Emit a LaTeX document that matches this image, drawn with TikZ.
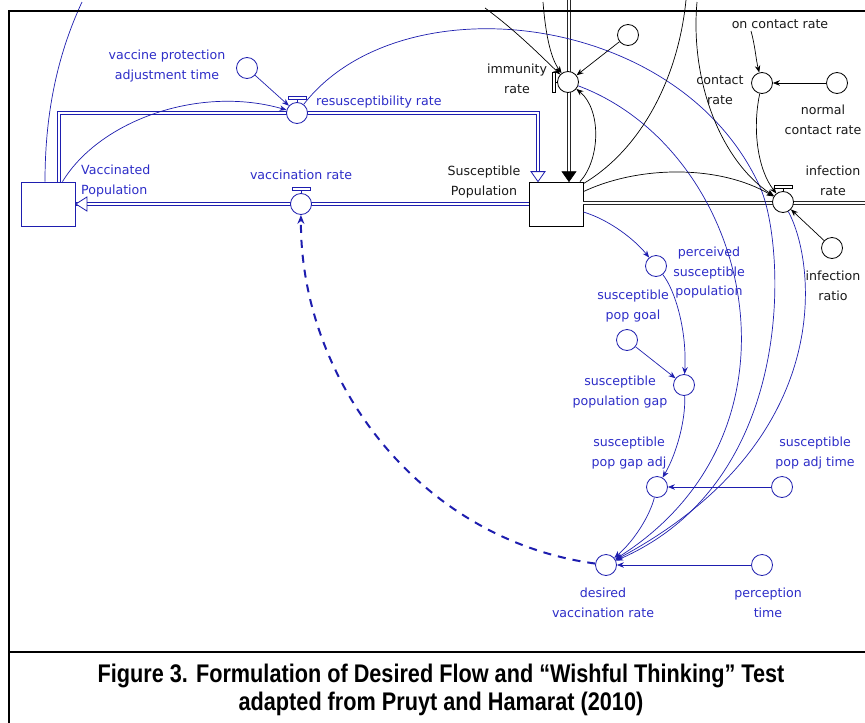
\documentclass[tikz,border=0pt]{standalone}
\usepackage{fontspec}
\usepackage{graphicx}
\setmainfont{DejaVu Sans}
\newfontfamily\capfont{Liberation Sans}
\usetikzlibrary{arrows.meta,calc}
\definecolor{sdblue}{RGB}{30,30,175}
\definecolor{sdtext}{RGB}{45,45,200}
\definecolor{sdgray}{RGB}{25,25,25}
\tikzset{
  auxc/.style={circle, draw, fill=white, minimum size=21pt, inner sep=0pt, line width=0.8pt},
  bauxc/.style={auxc, draw=sdblue},
  kauxc/.style={auxc, draw=black},
  stockbox/.style={rectangle, draw, fill=white, minimum width=54pt, minimum height=44pt, inner sep=0pt, line width=0.8pt},
  lbl/.style={font=\fontsize{12.6}{19.5}\selectfont, align=center, inner sep=0pt},
  blbl/.style={lbl, text=sdtext},
  klbl/.style={lbl, text=sdgray},
  bconn/.style={draw=sdblue, line width=0.7pt, -{Stealth[length=7pt,width=5.5pt]}},
  kconn/.style={draw=black, line width=0.7pt, -{Stealth[length=7pt,width=5.5pt]}},
  blink/.style={draw=sdblue, line width=0.7pt},
  klink/.style={draw=black, line width=0.7pt},
  bpipe/.style={draw=sdblue, double=white, double distance=2.2pt, line width=0.8pt},
  kpipe/.style={draw=black!85, double=white, double distance=2.2pt, line width=0.8pt},
  valveup/.pic={\draw[fill=white, line width=0.7pt] (-9,-17) rectangle (9,-14); \draw[line width=0.7pt] (0,-14) -- (0,-10.5);},
  valveleft/.pic={\draw[fill=white, line width=0.7pt] (-16,-10) rectangle (-13,10); \draw[line width=0.7pt] (-13,0) -- (-10.5,0);}
}
\begin{document}
\begin{tikzpicture}[x=1pt,y=-1pt]
\useasboundingbox (0,0) rectangle (865,723);
\clip (0,0) rectangle (865,723);
\fill[white] (0,0) rectangle (865,723);

% stocks
\node[stockbox, draw=sdblue] (vacc) at (48.5,204) {};
\node[stockbox, draw=black] (susc) at (556,204) {};

% free ends of links that leave the view
\coordinate (immsrc) at (569,0);
\coordinate (infsink) at (872,203);
\coordinate (vtop) at (82,2);
\coordinate (ktopa) at (485,8);
\coordinate (ktopb) at (543,2);
\coordinate (ktopc) at (697,2);
\coordinate (ktopd) at (686,0);
\coordinate (oncont) at (751,31);
\coordinate (bend) at (760,187);

% flow pipes
\draw[bpipe] (susc.west) -- (vacc.east);
\draw[sdblue, fill=white, line width=0.8pt] (vacc.east) -- ++(11,-7) -- ++(0,14) -- cycle;
\draw[bpipe] ([xshift=10.5pt]vacc.north) -- ++(0,-69) -| ([xshift=-18pt,yshift=10pt]susc.north);
\draw[sdblue, fill=white, line width=0.8pt] ([xshift=-18pt]susc.north) -- ++(-7,-10) -- ++(14,0) -- cycle;
\draw[kpipe] (immsrc) -- ([xshift=13pt,yshift=10pt]susc.north);
\draw[black, fill=black, line width=0.6pt] ([xshift=13pt]susc.north) -- ++(-7,-10) -- ++(14,0) -- cycle;
\draw[kpipe] ([yshift=1pt]susc.east) -- (infsink);

% valves
\node[bauxc] (resusv) at (297,113) {};
\pic[sdblue] at (resusv) {valveup};
\node[bauxc] (vratev) at (301,204) {};
\pic[sdblue] at (vratev) {valveup};
\node[kauxc] (immv) at (568,82) {};
\pic[black] at (immv) {valveleft};
\node[kauxc] (infv) at (783,202) {};
\pic[black] at (infv) {valveup};

% auxiliaries
\node[bauxc] (vpt) at (247,68) {};
\node[bauxc] (perc) at (656,266) {};
\node[bauxc] (goal) at (627,340) {};
\node[bauxc] (gap) at (684,385) {};
\node[bauxc] (gapadj) at (657,487) {};
\node[bauxc] (adjtime) at (782,487) {};
\node[bauxc] (desired) at (606,565) {};
\node[bauxc] (ptime) at (762,565) {};
\node[kauxc] (topaux) at (628,35) {};
\node[kauxc] (contact) at (762,83) {};
\node[kauxc] (normal) at (837,83) {};
\node[kauxc] (ratio) at (832,248) {};

% labels
\node[blbl, align=left, anchor=west] (vaccl) at (81,181) {Vaccinated\\Population};
\node[klbl] (suscl) at (484,182) {Susceptible\\Population};
\node[blbl] (vptl) at (167,66) {vaccine protection\\adjustment time};
\node[blbl, anchor=west] (resusl) at (316,102) {resusceptibility rate};
\node[blbl] (vratel) at (301,175) {vaccination rate};
\node[klbl] (imml) at (517,79) {immunity\\rate};
\node[klbl] (infl) at (833,181) {infection\\rate};
\node[klbl] (contactl) at (720,90) {contact\\rate};
\node[klbl] (oncontl) at (780,24) {on contact rate};
\node[klbl] (normall) at (823,120) {normal\\contact rate};
\node[klbl] (ratiol) at (833,286) {infection\\ratio};
\node[blbl] (percl) at (709,273) {perceived\\susceptible\\population};
\node[blbl] (goall) at (633,306) {susceptible\\pop goal};
\node[blbl] (gapl) at (620,392) {susceptible\\population gap};
\node[blbl] (gapadjl) at (629,453) {susceptible\\pop gap adj};
\node[blbl] (adjtimel) at (815,453) {susceptible\\pop adj time};
\node[blbl] (desiredl) at (603,603) {desired\\vaccination rate};
\node[blbl] (ptimel) at (768,603) {perception\\time};

% blue information links
\draw[bconn] (vpt) -- (resusv);
\draw[bconn] ([xshift=14pt]vacc.north) .. controls (100,120) and (200,85) .. (resusv);
\draw[blink] ([xshift=-3.5pt]vacc.north) .. controls (45,120) and (55,60) .. (vtop);
\draw[bconn] ([yshift=-8pt]susc.east) .. controls (610,220) and (635,240) .. (perc);
\draw[bconn] (perc) .. controls (675,290) and (687,330) .. (gap);
\draw[bconn] (goal) -- (gap);
\draw[bconn] (gap) .. controls (686,420) and (676,455) .. (gapadj);
\draw[bconn] (adjtime) -- (gapadj);
\draw[bconn] (gapadj) .. controls (650,515) and (635,540) .. (desired);
\draw[bconn] (ptime) -- (desired);
\draw[bconn] (immv) .. controls (750,150) and (820,430) .. (desired);
\draw[bconn] (resusv) .. controls (400,-20) and (680,10) .. (bend) .. controls (785,242) and (800,480) .. (desired);
\draw[bconn] (infv) .. controls (815,260) and (840,440) .. (desired);
\draw[draw=sdblue, line width=2pt, dash pattern=on 8pt off 7pt, -{Stealth[length=9pt,width=7pt]}]
  (desired) .. controls (420,540) and (300,380) .. (vratev);

% black information links
\draw[kconn] ([xshift=24pt]susc.north) .. controls (600,160) and (602,110) .. (immv);
\draw[klink] ([yshift=-2pt]susc.north east) .. controls (640,150) and (678,80) .. (ktopd);
\draw[kconn] ([yshift=-10pt]susc.north east) .. controls (640,165) and (720,165) .. (infv);
\draw[kconn] (ktopa) .. controls (515,30) and (540,55) .. (immv);
\draw[kconn] (ktopb) .. controls (546,40) and (552,60) .. (immv);
\draw[kconn] (topaux) -- (immv);
\draw[kconn] (ktopc) .. controls (690,80) and (720,160) .. (infv);
\draw[kconn] (oncont) .. controls (755,45) and (756,60) .. (contact);
\draw[kconn] (normal) -- (contact);
\draw[kconn] (contact) .. controls (752,130) and (758,170) .. (infv);
\draw[kconn] (ratio) -- (infv);

% frame and caption (narrow bold face)
\draw[line width=2.6pt] (9,723) -- (9,11) -- (866,11);
\draw[line width=2.6pt] (9,652) -- (866,652);
\node[align=center, inner sep=0pt, font=\capfont\bfseries\fontsize{25.5}{28}\selectfont] (cap) at (441,690)
  {\scalebox{0.85}[1]{Figure 3. Formulation of Desired Flow and “Wishful Thinking” Test}\\
   \scalebox{0.85}[1]{adapted from Pruyt and Hamarat (2010)}};
\end{tikzpicture}
\end{document}
